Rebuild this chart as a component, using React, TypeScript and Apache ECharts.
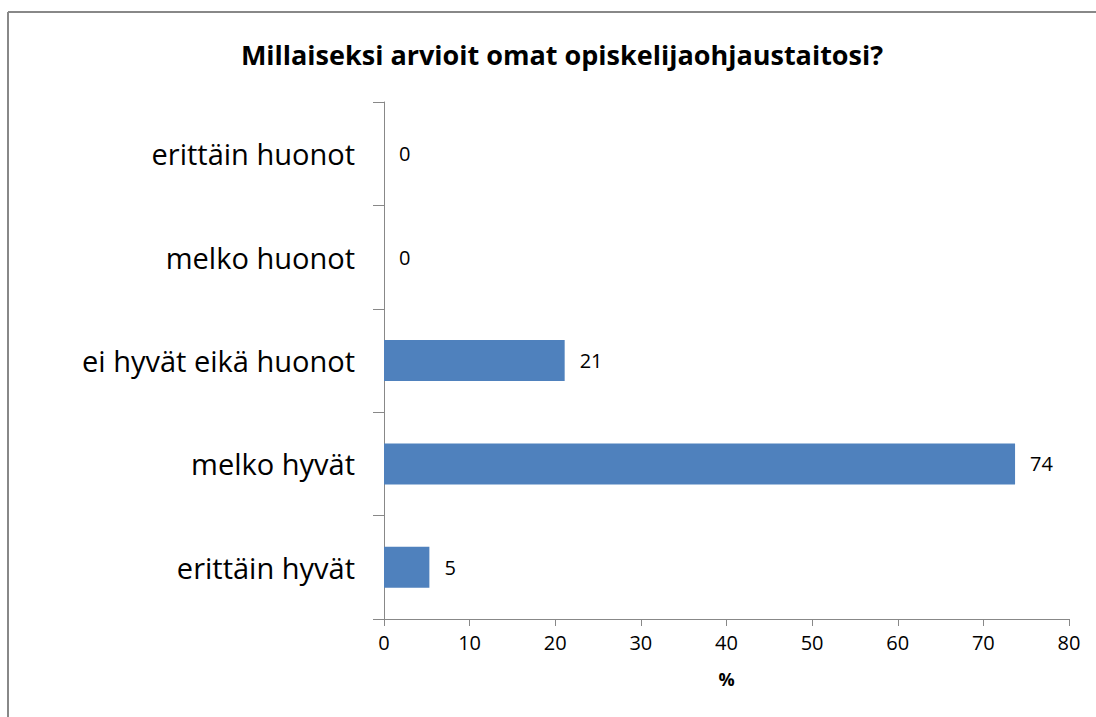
import React, { useEffect, useRef } from "react";
import * as echarts from "echarts";

const categories = ["erittäin huonot", "melko huonot", "ei hyvät eikä huonot", "melko hyvät", "erittäin hyvät"];
const values = [0, 0, 21.1, 73.7, 5.3];
const xTicks = { min: 0, max: 80, interval: 10 };
const titleText = "Millaiseksi arvioit omat opiskelijaohjaustaitosi?";
const xName = "%";

const FONT = "Open Sans";

export default function App() {
  const ref = useRef<HTMLDivElement>(null);
  useEffect(() => {
    document.body.style.margin = "0";
    const chart = echarts.init(ref.current!, null, { renderer: "svg" });
    chart.setOption({
      animation: false,
      backgroundColor: "#ffffff",
      title: {
        text: titleText,
        left: 557,
        textAlign: "center",
        top: 36,
        textStyle: { fontFamily: FONT, fontSize: 27, fontWeight: "bold", color: "#000" },
      },
      graphic: [
        { type: "line", shape: { x1: 8, y1: 12, x2: 1096, y2: 12 }, style: { stroke: "#888", lineWidth: 2 } },
        { type: "line", shape: { x1: 8, y1: 12, x2: 8, y2: 717 }, style: { stroke: "#888", lineWidth: 2 } },
      ],
      grid: { left: 384, right: 27, top: 102, bottom: 98, containLabel: false },
      xAxis: {
        type: "value",
        min: xTicks.min,
        max: xTicks.max,
        interval: xTicks.interval,
        name: xName,
        nameLocation: "middle",
        nameGap: 51,
        nameTextStyle: { fontFamily: FONT, fontSize: 18, fontWeight: "bold", color: "#000" },
        axisLine: { show: true, lineStyle: { color: "#888", width: 1 } },
        axisTick: { show: true, length: 7, lineStyle: { color: "#888" } },
        axisLabel: { fontFamily: FONT, fontSize: 20, color: "#000", margin: 13 },
        splitLine: { show: false },
      },
      yAxis: {
        type: "category",
        data: categories,
        inverse: true,
        axisLine: { show: true, lineStyle: { color: "#888", width: 1 } },
        axisTick: { show: true, length: 11, lineStyle: { color: "#888" } },
        axisLabel: { fontFamily: FONT, fontSize: 29, color: "#000", margin: 29 },
      },
      series: [
        {
          type: "bar",
          data: values,
          barWidth: 41,
          itemStyle: { color: "#4F81BD" },
          label: {
            show: true,
            position: "right",
            distance: 15,
            fontFamily: FONT,
            fontSize: 20,
            color: "#000",
            formatter: (p: any) => String(Math.round(p.value)),
          },
        },
      ],
    });
    return () => chart.dispose();
  }, []);
  return <div ref={ref} style={{ width: 1096, height: 717 }} />;
}
